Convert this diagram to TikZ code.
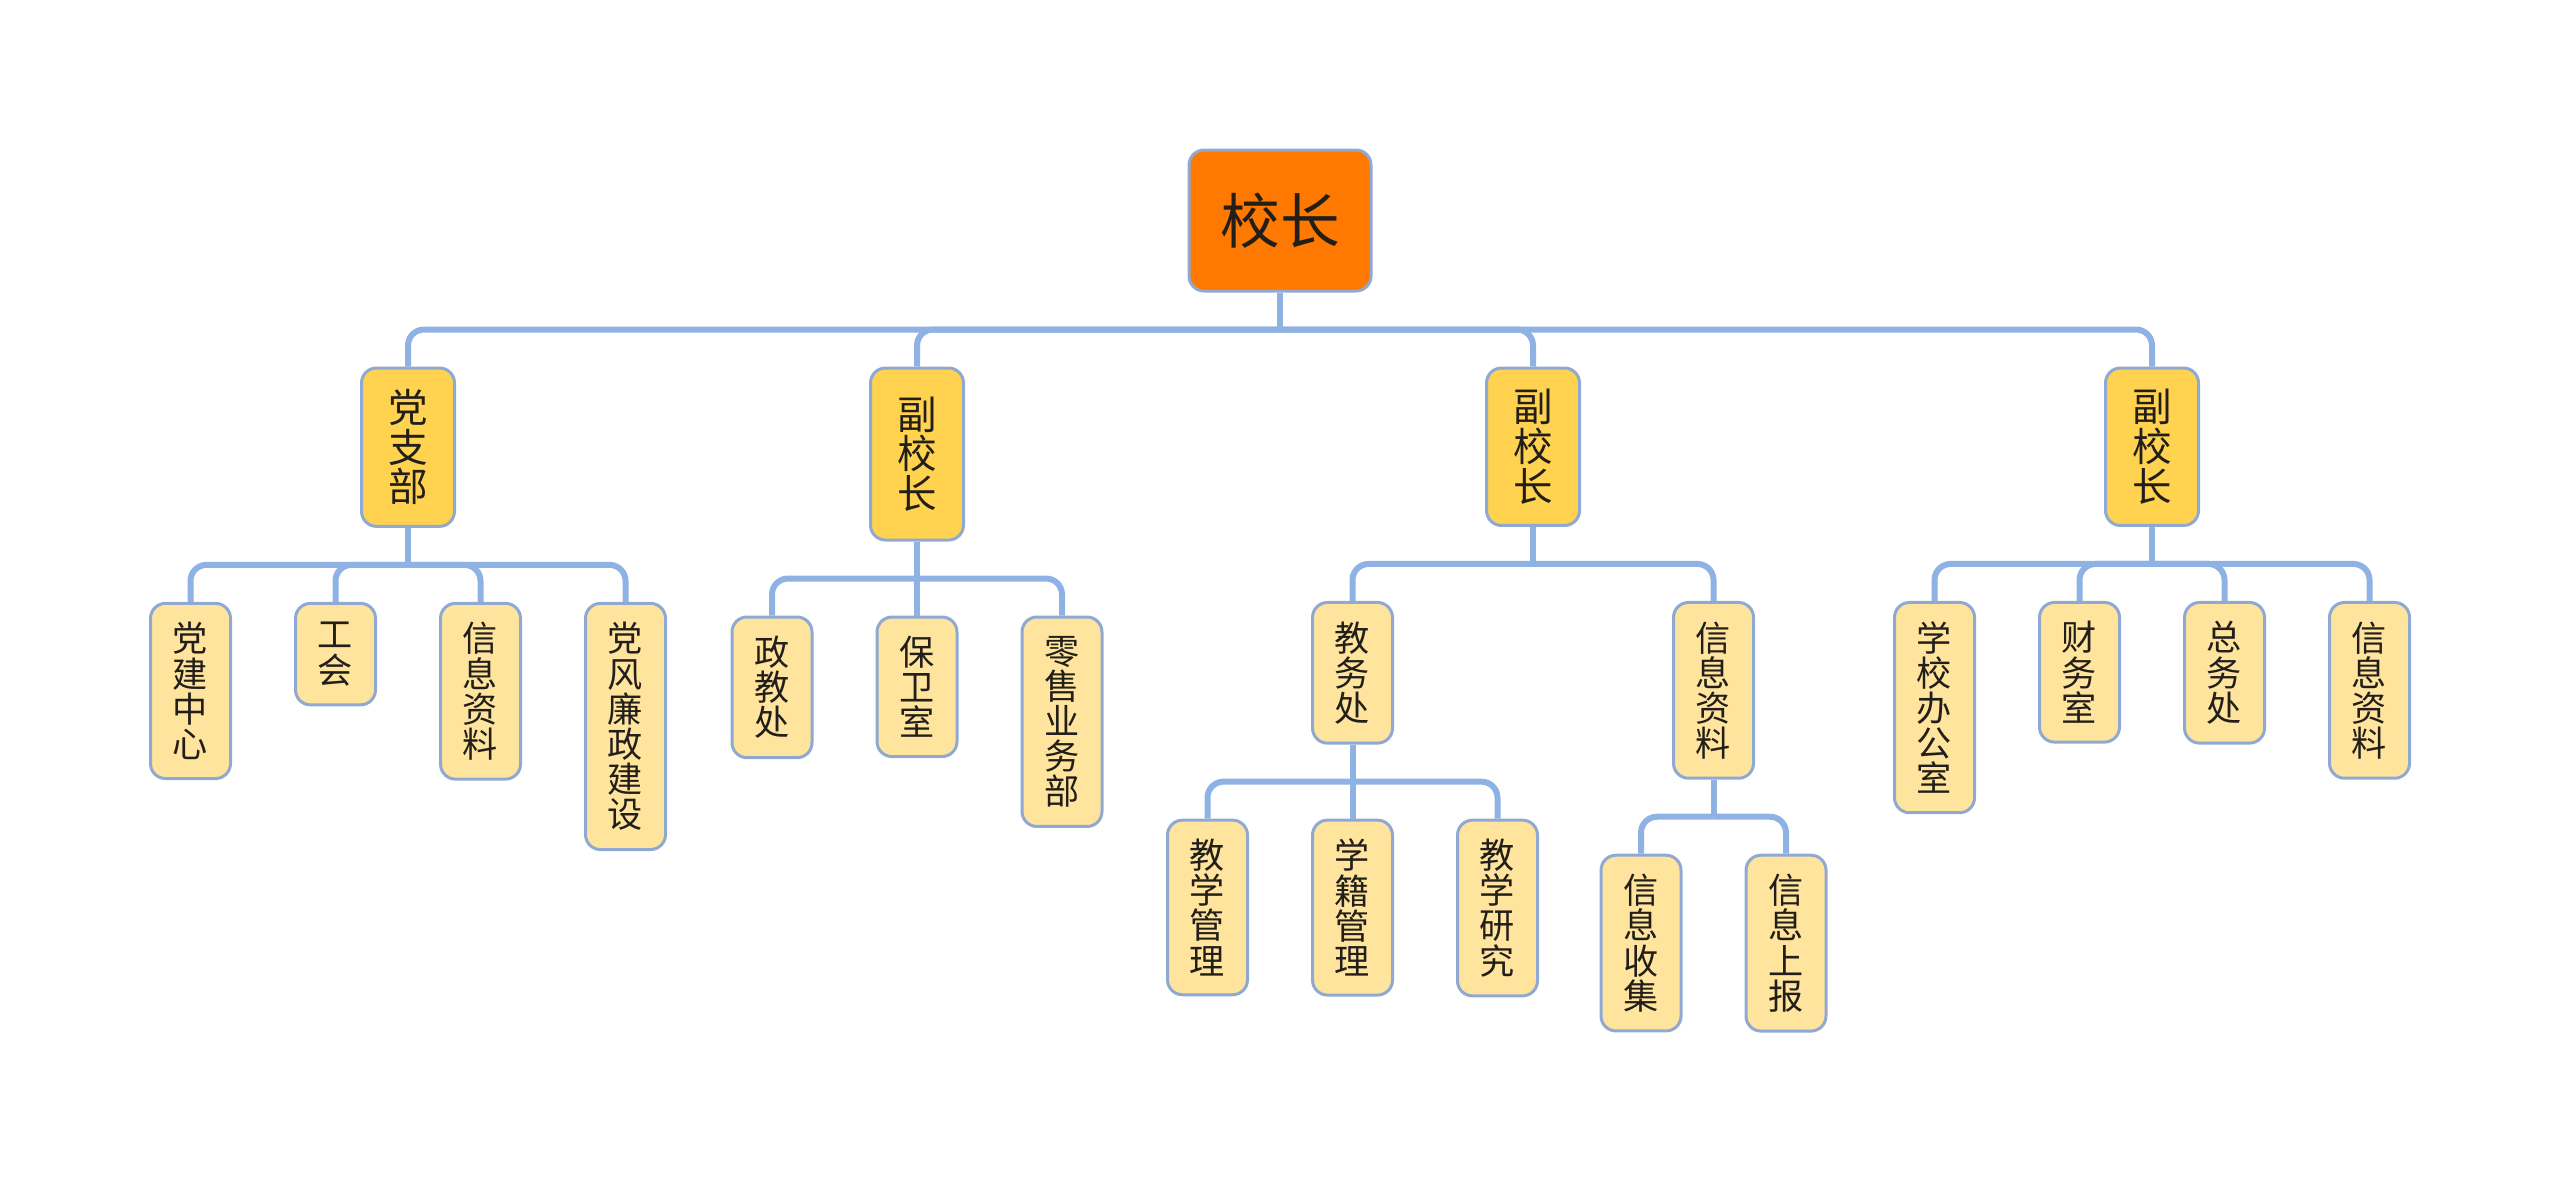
\documentclass[tikz,border=0pt]{standalone}
\usepackage{fontspec}
\setmainfont{Noto Sans CJK SC}
\usepackage{tikz}
\usetikzlibrary{positioning}
\usepackage{xcolor}
\definecolor{linkblue}{HTML}{8EB2E4}
\definecolor{edgeblue}{HTML}{8FA9D2}
\definecolor{rootorange}{HTML}{FF7800}
\definecolor{headgold}{HTML}{FFD24F}
\definecolor{leafcream}{HTML}{FFE49E}
\definecolor{inkgray}{HTML}{221E1A}

\begin{document}
\begin{tikzpicture}[
  box/.style={draw=edgeblue, line width=0.06cm, rounded corners=0.3cm,
              align=center, text=inkgray, inner xsep=0pt},
  rootbox/.style={box, fill=rootorange, minimum width=3.64cm,
                  minimum height=2.82cm, font=\fontsize{34}{40}\selectfont},
  headbox/.style={box, fill=headgold, minimum width=1.86cm, inner ysep=0.43cm,
                  font=\fontsize{22.5}{22.5}\selectfont},
  leafbox/.style={box, fill=leafcream, minimum width=1.6cm, inner ysep=0.38cm,
                  font=\fontsize{20}{20}\selectfont},
  link/.style={draw=linkblue, line width=0.12cm, rounded corners=0.32cm},
  ]
  \useasboundingbox (0,0) rectangle (51.2,-23.54);

  \node[rootbox] (principal) at (25.6,-4.41) {校长};

  % first level
  \node[headbox, below=1.48cm of principal, xshift=-17.44cm] (party) {党\\支\\部};
  \node[headbox, below=1.48cm of principal, xshift=-7.26cm, minimum height=3.44cm] (vpa) {副\\校\\长};
  \node[headbox, below=1.48cm of principal, xshift=5.06cm] (vpb) {副\\校\\长};
  \node[headbox, below=1.48cm of principal, xshift=17.44cm] (vpc) {副\\校\\长};

  % under the party branch
  \node[leafbox, below=1.48cm of party, xshift=-4.35cm] (partycenter) {党\\建\\中\\心};
  \node[leafbox, below=1.48cm of party, xshift=-1.45cm] (union) {工\\会};
  \node[leafbox, below=1.48cm of party, xshift=1.45cm] (partyinfo) {信\\息\\资\\料};
  \node[leafbox, below=1.48cm of party, xshift=4.35cm] (integrity) {党\\风\\廉\\政\\建\\设};

  % under the first vice principal
  \node[leafbox, below=1.48cm of vpa, xshift=-2.9cm] (moral) {政\\教\\处};
  \node[leafbox, below=1.48cm of vpa] (security) {保\\卫\\室};
  \node[leafbox, below=1.48cm of vpa, xshift=2.9cm] (retail) {零\\售\\业\\务\\部};

  % under the second vice principal
  \node[leafbox, below=1.48cm of vpb, xshift=-3.61cm] (academic) {教\\务\\处};
  \node[leafbox, below=1.48cm of vpb, xshift=3.61cm] (vpbinfo) {信\\息\\资\\料};
  \node[leafbox, below=1.48cm of academic, xshift=-2.9cm] (teaching) {教\\学\\管\\理};
  \node[leafbox, below=1.48cm of academic] (records) {学\\籍\\管\\理};
  \node[leafbox, below=1.48cm of academic, xshift=2.9cm] (research) {教\\学\\研\\究};
  \node[leafbox, below=1.48cm of vpbinfo, xshift=-1.45cm] (collect) {信\\息\\收\\集};
  \node[leafbox, below=1.48cm of vpbinfo, xshift=1.45cm] (report) {信\\息\\上\\报};

  % under the third vice principal
  \node[leafbox, below=1.48cm of vpc, xshift=-4.35cm] (office) {学\\校\\办\\公\\室};
  \node[leafbox, below=1.48cm of vpc, xshift=-1.45cm] (finance) {财\\务\\室};
  \node[leafbox, below=1.48cm of vpc, xshift=1.45cm] (general) {总\\务\\处};
  \node[leafbox, below=1.48cm of vpc, xshift=4.35cm] (vpcinfo) {信\\息\\资\\料};

  % connectors
  \draw[link] (principal.south) -- ++(0,-0.74);
  \draw[link] (principal.south) ++(0,-0.74) -| (party.north);
  \draw[link] (principal.south) ++(0,-0.74) -| (vpa.north);
  \draw[link] (principal.south) ++(0,-0.74) -| (vpb.north);
  \draw[link] (principal.south) ++(0,-0.74) -| (vpc.north);

  \draw[link] (party.south) -- ++(0,-0.74);
  \draw[link] (party.south) ++(0,-0.74) -| (partycenter.north);
  \draw[link] (party.south) ++(0,-0.74) -| (union.north);
  \draw[link] (party.south) ++(0,-0.74) -| (partyinfo.north);
  \draw[link] (party.south) ++(0,-0.74) -| (integrity.north);

  \draw[link] (vpa.south) -- ++(0,-0.74);
  \draw[link] (vpa.south) ++(0,-0.74) -| (moral.north);
  \draw[link] (vpa.south) -- (security.north);
  \draw[link] (vpa.south) ++(0,-0.74) -| (retail.north);

  \draw[link] (vpb.south) -- ++(0,-0.74);
  \draw[link] (vpb.south) ++(0,-0.74) -| (academic.north);
  \draw[link] (vpb.south) ++(0,-0.74) -| (vpbinfo.north);

  \draw[link] (academic.south) -- ++(0,-0.74);
  \draw[link] (academic.south) ++(0,-0.74) -| (teaching.north);
  \draw[link] (academic.south) -- (records.north);
  \draw[link] (academic.south) ++(0,-0.74) -| (research.north);

  \draw[link] (vpbinfo.south) -- ++(0,-0.74);
  \draw[link] (vpbinfo.south) ++(0,-0.74) -| (collect.north);
  \draw[link] (vpbinfo.south) ++(0,-0.74) -| (report.north);

  \draw[link] (vpc.south) -- ++(0,-0.74);
  \draw[link] (vpc.south) ++(0,-0.74) -| (office.north);
  \draw[link] (vpc.south) ++(0,-0.74) -| (finance.north);
  \draw[link] (vpc.south) ++(0,-0.74) -| (general.north);
  \draw[link] (vpc.south) ++(0,-0.74) -| (vpcinfo.north);
\end{tikzpicture}
\end{document}
